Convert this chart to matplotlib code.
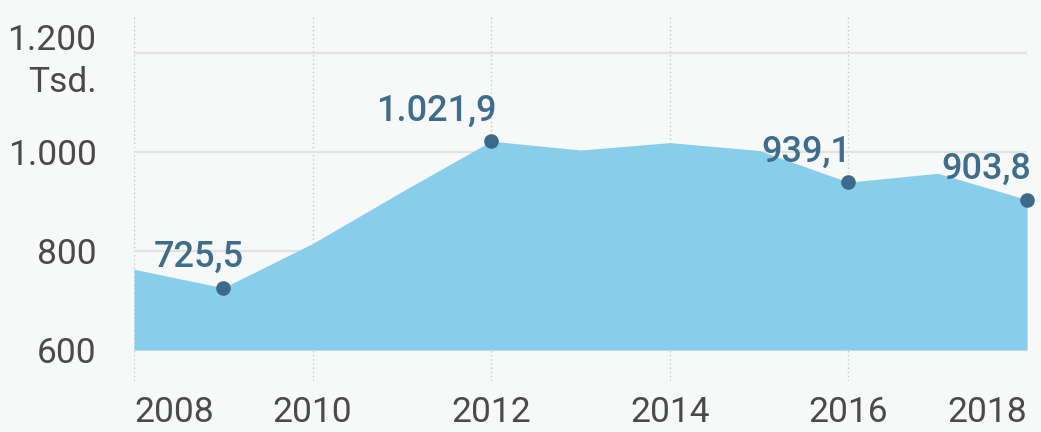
import matplotlib.pyplot as plt

# data
years = [2008, 2009, 2010, 2011, 2012, 2013, 2014, 2015, 2016, 2017, 2018]
values = [763, 725.5, 815, 920, 1021.9, 1004, 1019, 1003, 939.1, 957, 903.8]

label_years = [2009, 2012, 2016, 2018]
label_values = [725.5, 1021.9, 939.1, 903.8]
label_texts = ['725,5', '1.021,9', '939,1', '903,8']

xticks = [2008, 2010, 2012, 2014, 2016, 2018]
yticks = [600, 800, 1000, 1200]
ytick_labels = ['600', '800', '1.000', '1.200\nTsd.']

plt.rcParams['font.family'] = ['Roboto', 'DejaVu Sans']

bg = '#f7f8f8'
fig = plt.figure(figsize=(10.41, 4.32), dpi=100, facecolor=bg)
ax = fig.add_axes([0.1287, 0.118, 0.8579, 0.845], facecolor=bg)

# area from the 600 baseline
ax.fill_between(years, values, 600, color='#87ceeb', linewidth=0, zorder=2)

# labelled points
ax.plot(label_years, label_values, 'o', color='#3d6a8a', markersize=9.5,
        clip_on=False, zorder=4)
# small horizontal nudges so labels sit like the original
label_dx = [15, 4, 2, 3]
for x, y, t, dx in zip(label_years, label_values, label_texts, label_dx):
    ax.annotate(t, (x, y), xytext=(dx, 15), textcoords='offset points',
                ha='right', va='baseline', fontsize=26, fontweight='medium',
                color='#3f6d8c', zorder=5)

ax.set_xlim(2008, 2018)
ax.set_ylim(537, 1275)

# grid
ax.set_axisbelow(True)
ax.set_xticks(xticks)
ax.set_yticks(yticks)
ax.grid(axis='x', color='#c8c8c8', linestyle=(0, (1, 2)), linewidth=1)
ax.grid(axis='y', color='#e2e2e2', linestyle='-', linewidth=1.6)

ax.set_xticklabels([str(y) for y in xticks])
ax.set_yticklabels(ytick_labels)
ax.tick_params(axis='both', length=0, labelsize=25.5, labelcolor='#4a4a4a')
ax.tick_params(axis='x', pad=11)
ax.tick_params(axis='y', pad=27)

xlabels = ax.get_xticklabels()
xlabels[0].set_ha('left')
xlabels[-1].set_ha('right')
for lab in ax.get_yticklabels():
    lab.set_ha('right')
    lab.set_linespacing(1.35)

for s in ax.spines.values():
    s.set_visible(False)

plt.savefig('out.png', dpi=100, facecolor=bg)
